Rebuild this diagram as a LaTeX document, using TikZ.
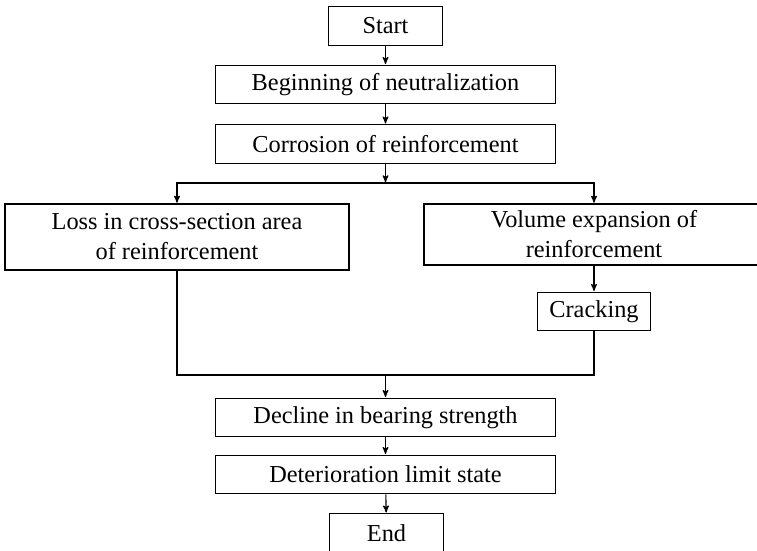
\documentclass[tikz,border=0pt]{standalone}
\usepackage{fontspec}
\setmainfont{Liberation Serif}
\usetikzlibrary{arrows,positioning}
\tikzset{
    %Define standard arrow tip
    >=stealth',
    %Define style for boxes
    stage/.style={
           rectangle,
           draw=black, line width=0.8pt,
           inner sep=0pt,
           minimum height=0.96cm,
           minimum width = 2.83cm,
           align=center},
    widestage/.style={
           stage,
           minimum width = 8.48cm},
    % Define arrow style
    flow/.style={
           ->,
           line width=0.8pt,
           shorten >=0.5pt}
}

\begin{document}
\begin{tikzpicture}[x=0.025cm,y=-0.025cm,font=\fontsize{17.3pt}{21.3pt}\selectfont]
\useasboundingbox (0,0) rectangle (757,551);
\clip (0,0) rectangle (757,551);

\node[stage] (start) at (385.5,26) {Start};
\node[widestage] (neutral) at (385.5,84.5) {Beginning of neutralization};
\node[widestage] (corrosion) at (385.5,144) {Corrosion of reinforcement};

\node[stage, minimum width=8.6cm, minimum height=1.65cm] (loss) at (177,237) {Loss in cross-section area\\of reinforcement};
\node[stage, minimum width=8.5cm, minimum height=1.525cm] (volume) at (594,234.5) {Volume expansion of\\reinforcement};
\node[stage] (cracking) at (594,311.5) {Cracking};

\node[widestage] (decline) at (385.5,417.5) {Decline in bearing strength};
\node[widestage] (limit) at (385.5,474.5) {Deterioration limit state};
\node[stage] (stop) at (386.5,533) {End};

\coordinate (split) at (385.5,183);
\coordinate (merge) at (385.5,375);

\draw[flow] (start) -- (neutral);
\draw[flow] (neutral) -- (corrosion);
\draw[flow] (corrosion) -- (split);
\draw[flow] (split) -| (loss);
\draw[flow] (split) -| (volume);
\draw[flow] (volume) -- (cracking);

\draw[line width=0.8pt] (loss) |- (merge);
\draw[line width=0.8pt] (cracking) |- (merge);
\draw[flow] (merge) -- (decline);
\draw[flow] (decline) -- (limit);
\draw[flow] (limit) -- (stop);

\end{tikzpicture}
\end{document}
